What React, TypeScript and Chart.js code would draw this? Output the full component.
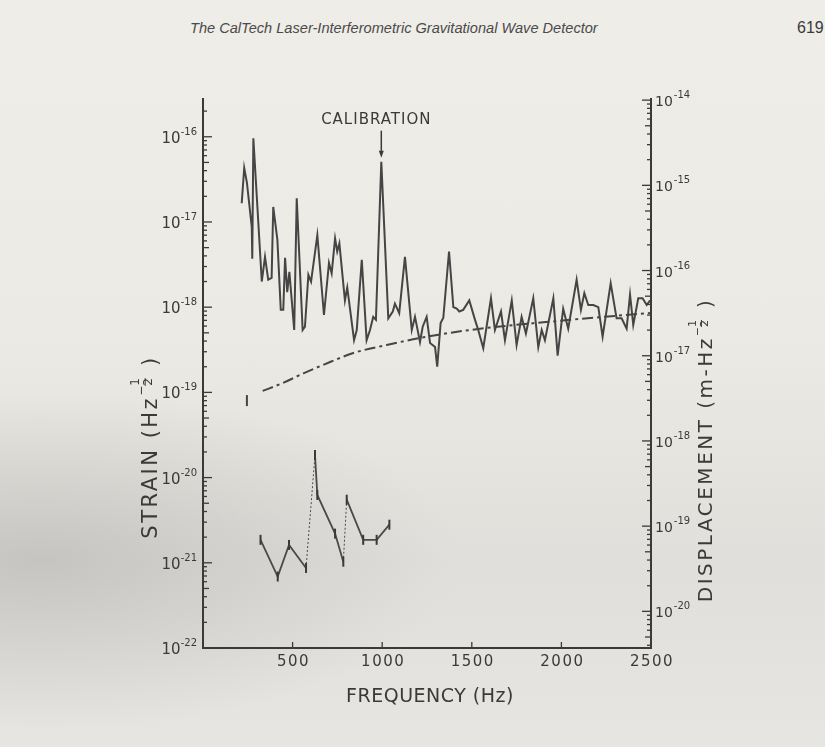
import React, { useEffect, useRef } from 'react';
import { Chart, registerables } from 'chart.js';

Chart.register(...registerables);

// ---------- data ----------
const NOISE_FREQ_HZ = [
  216, 230, 245, 272, 275, 281, 328, 346, 364, 383, 392, 415, 434, 448, 458, 470, 482, 509, 523, 556,
  569, 588, 603, 638, 675, 703, 718, 737, 749, 761, 792, 805, 843, 858, 886, 913, 932, 950, 965, 995,
  1034, 1059, 1071, 1095, 1127, 1165, 1183, 1211, 1226, 1248, 1267, 1295, 1307, 1326, 1341, 1373, 1397,
  1416, 1430, 1452, 1486, 1518, 1536, 1564, 1607, 1629, 1663, 1685, 1723, 1750, 1778, 1802, 1843, 1871,
  1890, 1908, 1955, 1979, 2010, 2038, 2085, 2109, 2128, 2150, 2178, 2206, 2230, 2275, 2308, 2336, 2364,
  2383, 2401, 2429, 2453, 2476, 2495,
];
const NOISE_STRAIN = [
  1.66e-17, 4.3e-17, 2.9e-17, 8.8e-18, 3.7e-18, 9.6e-17, 2.0e-18, 3.9e-18, 2.1e-18, 2.2e-18, 1.5e-17,
  6.2e-18, 9.3e-19, 9.3e-19, 3.8e-18, 1.5e-18, 2.6e-18, 5.4e-19, 1.9e-17, 5.4e-19, 5.9e-19, 2.4e-18,
  2.0e-18, 7.0e-18, 8.1e-19, 3.3e-18, 2.5e-18, 6.4e-18, 4.5e-18, 5.6e-18, 1.2e-18, 1.7e-18, 4.1e-19,
  5.4e-19, 3.6e-18, 4.1e-19, 5.4e-19, 7.7e-19, 7.1e-19, 5.1e-17, 7.4e-19, 8.9e-19, 1.1e-18, 8.5e-19,
  3.9e-18, 5.4e-19, 7.7e-19, 3.9e-19, 5.9e-19, 7.7e-19, 3.8e-19, 3.4e-19, 2.0e-19, 6.5e-19, 7.5e-19,
  4.5e-18, 1.0e-18, 9.6e-19, 8.9e-19, 9.3e-19, 1.2e-18, 7.1e-19, 5.4e-19, 3.3e-19, 1.27e-18, 5.4e-19,
  8.9e-19, 4.1e-19, 1.2e-18, 3.6e-19, 7.7e-19, 4.9e-19, 1.27e-18, 3.4e-19, 5.4e-19, 4.1e-19, 1.27e-18,
  2.7e-19, 9.6e-19, 5.6e-19, 2.1e-18, 9.3e-19, 1.46e-18, 1.06e-18, 1.06e-18, 1.0e-18, 4.5e-19, 1.9e-18,
  7.4e-19, 7.4e-19, 5.6e-19, 1.4e-18, 6.2e-19, 1.27e-18, 1.27e-18, 1.06e-18, 1.2e-18,
];

const MODEL_FREQ_HZ = [333, 446, 560, 709, 839, 1025, 1211, 1490, 2048, 2494];
const MODEL_STRAIN = [1.04e-19, 1.29e-19, 1.67e-19, 2.27e-19, 2.9e-19, 3.6e-19, 4.35e-19, 5.4e-19, 7.1e-19, 8.55e-19];

const MARK_FREQ_HZ = [245, 245];
const MARK_STRAIN = [6.9e-20, 9.3e-20];

const LOWER_FREQ_HZ = [321, 417, 480, 575, 625, 638, 737, 783, 802, 894, 969, 1040];
const LOWER_STRAIN = [1.86e-21, 6.9e-22, 1.62e-21, 8.7e-22, 1.84e-20, 6.25e-21, 2.2e-21, 1.03e-21, 5.5e-21, 1.86e-21, 1.86e-21, 2.8e-21];
const LOWER_DOTTED_SEGMENTS = [3, 7];

const CAL_FREQ_HZ = 995;
const X_TICKS = [500, 1000, 1500, 2000, 2500];
const LEFT_DECADES = [-22, -21, -20, -19, -18, -17, -16];
const RIGHT_DECADES = [-20, -19, -18, -17, -16, -15, -14];

const X_MIN = 0;
const X_MAX = 2500;
const LEFT_MIN = 1e-22;
const LEFT_MAX = 2.851e-16;
const RIGHT_MIN = 3.715e-21;
const RIGHT_MAX = 1.059e-14;

// ---------- style ----------
const INK = '#3a3a3a';
const FONT = '"DejaVu Sans", "Liberation Sans", sans-serif';

const pts = (xs: number[], ys: number[]) => xs.map((x, i) => ({ x, y: ys[i] }));

function drawRunsRotated(ctx: CanvasRenderingContext2D, cx: number, cy: number, main1: string, main2: string, big: number, ls: number) {
  ctx.save();
  ctx.font = `${big}px ${FONT}`;
  (ctx as any).letterSpacing = `${ls}px`;
  const w1 = ctx.measureText(main1).width;
  const w3 = ctx.measureText(main2).width;
  ctx.font = `${Math.round(big * 0.55)}px ${FONT}`;
  (ctx as any).letterSpacing = '0px';
  const wMinus = ctx.measureText('−').width;
  const wDigit = ctx.measureText('1').width;
  const wSup = wMinus + wDigit + 3;
  const total = w1 + wSup + w3;
  const cap = big * 0.73;
  ctx.translate(cx + cap / 2, cy);
  ctx.rotate(-Math.PI / 2);
  let x = -total / 2;
  ctx.textBaseline = 'alphabetic';
  ctx.textAlign = 'left';
  ctx.font = `${big}px ${FONT}`;
  (ctx as any).letterSpacing = `${ls}px`;
  ctx.fillText(main1, x, 0);
  x += w1;
  ctx.font = `${Math.round(big * 0.55)}px ${FONT}`;
  (ctx as any).letterSpacing = '0px';
  ctx.fillText('−', x, -cap * 0.75);
  x += wMinus;
  ctx.fillText('1', x, -cap * 1.15);
  ctx.fillText('2', x, -cap * 0.3);
  ctx.fillRect(x, -cap * 0.78, wDigit, 1);
  x += wDigit + 3;
  ctx.font = `${big}px ${FONT}`;
  (ctx as any).letterSpacing = `${ls}px`;
  ctx.fillText(main2, x, 0);
  ctx.restore();
}

const decorPlugin = {
  id: 'decor',
  afterDraw(chart: any) {
    const { ctx, chartArea: a, scales } = chart;
    const xs = scales.x;
    const yl = scales.y;
    const yr = scales.y2;
    ctx.save();
    ctx.strokeStyle = INK;
    ctx.fillStyle = INK;

    // axis lines (no top frame)
    ctx.lineWidth = 2;
    ctx.beginPath();
    ctx.moveTo(a.left, a.top);
    ctx.lineTo(a.left, a.bottom);
    ctx.lineTo(a.right, a.bottom);
    ctx.lineTo(a.right, a.top);
    ctx.stroke();

    // inward log ticks
    ctx.lineWidth = 1.3;
    const logTicks = (scale: any, side: 'left' | 'right') => {
      const lo = Math.floor(Math.log10(scale.min));
      const hi = Math.ceil(Math.log10(scale.max));
      const x0 = side === 'left' ? a.left : a.right;
      const dir = side === 'left' ? 1 : -1;
      for (let e = lo; e <= hi; e++) {
        for (let m = 1; m <= 9; m++) {
          const v = m * Math.pow(10, e);
          if (v < scale.min * 0.999 || v > scale.max * 1.001) continue;
          const py = scale.getPixelForValue(v);
          const len = m === 1 ? 9 : m === 5 ? 6 : 4;
          ctx.beginPath();
          ctx.moveTo(x0, py);
          ctx.lineTo(x0 + dir * len, py);
          ctx.stroke();
        }
      }
    };
    logTicks(yl, 'left');
    logTicks(yr, 'right');

    // x ticks
    X_TICKS.forEach((v) => {
      if (v >= X_MAX) return;
      const px = xs.getPixelForValue(v);
      ctx.beginPath();
      ctx.moveTo(px, a.bottom);
      ctx.lineTo(px, a.bottom - 6);
      ctx.stroke();
    });

    // left decade labels
    ctx.textBaseline = 'alphabetic';
    LEFT_DECADES.forEach((e) => {
      const py = yl.getPixelForValue(Math.pow(10, e));
      ctx.font = `10px ${FONT}`;
      const sup = `-${-e}`;
      const sw = ctx.measureText(sup).width;
      const right = a.left - 6;
      ctx.textAlign = 'left';
      ctx.fillText(sup, right - sw, py - 2);
      ctx.font = `15px ${FONT}`;
      ctx.textAlign = 'right';
      ctx.fillText('10', right - sw, py + 6);
    });

    // right decade labels
    RIGHT_DECADES.forEach((e) => {
      const py = yr.getPixelForValue(Math.pow(10, e));
      ctx.font = `14px ${FONT}`;
      ctx.textAlign = 'left';
      const left = a.right + 4;
      ctx.fillText('10', left, py + 6);
      const bw = ctx.measureText('10').width;
      ctx.font = `10px ${FONT}`;
      ctx.fillText(`-${-e}`, left + bw + 1, py - 2);
    });

    // x labels
    ctx.font = `15px ${FONT}`;
    (ctx as any).letterSpacing = '1.5px';
    ctx.textAlign = 'center';
    X_TICKS.forEach((v) => {
      const px = xs.getPixelForValue(v);
      ctx.fillText(String(v), px + 1, a.bottom + 18);
    });

    // x title
    ctx.font = `19px ${FONT}`;
    (ctx as any).letterSpacing = '0.5px';
    ctx.fillText('FREQUENCY (Hz)', (a.left + a.right) / 2 + 3, a.bottom + 54);
    (ctx as any).letterSpacing = '0px';

    // calibration arrow
    const ci = NOISE_FREQ_HZ.indexOf(CAL_FREQ_HZ);
    const ax = xs.getPixelForValue(CAL_FREQ_HZ);
    const tip = yl.getPixelForValue(NOISE_STRAIN[ci]) - 4;
    const tail = tip - 27;
    ctx.lineWidth = 1.5;
    ctx.beginPath();
    ctx.moveTo(ax, tail);
    ctx.lineTo(ax, tip - 5);
    ctx.stroke();
    ctx.beginPath();
    ctx.moveTo(ax - 2.5, tip - 7);
    ctx.lineTo(ax + 2.5, tip - 7);
    ctx.lineTo(ax, tip);
    ctx.closePath();
    ctx.fill();
    ctx.font = `15px ${FONT}`;
    (ctx as any).letterSpacing = '1px';
    ctx.textAlign = 'center';
    ctx.fillText('CALIBRATION', ax - 5, tail - 7);
    (ctx as any).letterSpacing = '0px';
    ctx.restore();

    // rotated titles
    ctx.save();
    ctx.fillStyle = INK;
    drawRunsRotated(ctx, a.left - 54, 447, 'STRAIN (Hz', ' )', 21, 2.5);
    drawRunsRotated(ctx, a.right + 54, 450, 'DISPLACEMENT (m-Hz', ' )', 20, 2.5);
    ctx.restore();
  },
};

export default function App() {
  const ref = useRef<HTMLCanvasElement | null>(null);

  useEffect(() => {
    if (!ref.current) return;
    const chart = new Chart(ref.current, {
      type: 'line',
      data: {
        datasets: [
          {
            label: 'noise',
            data: pts(NOISE_FREQ_HZ, NOISE_STRAIN),
            borderColor: '#454545',
            borderWidth: 2,
            pointRadius: 0,
            tension: 0,
            yAxisID: 'y',
          },
          {
            label: 'model',
            data: pts(MODEL_FREQ_HZ, MODEL_STRAIN),
            borderColor: '#454545',
            borderWidth: 2,
            borderDash: [11, 4, 3, 4],
            pointRadius: 0,
            cubicInterpolationMode: 'monotone',
            yAxisID: 'y',
          },
          {
            label: 'mark',
            data: pts(MARK_FREQ_HZ, MARK_STRAIN),
            borderColor: '#454545',
            borderWidth: 2,
            pointRadius: 0,
            yAxisID: 'y',
          },
          {
            label: 'lower',
            data: pts(LOWER_FREQ_HZ, LOWER_STRAIN),
            borderColor: '#4a4a4a',
            borderWidth: 1.8,
            pointStyle: 'line',
            rotation: 90,
            pointRadius: 5,
            pointBorderWidth: 2,
            pointBorderColor: '#3a3a3a',
            segment: {
              borderDash: (c: any) => (LOWER_DOTTED_SEGMENTS.includes(c.p0DataIndex) ? [2, 2] : undefined),
              borderWidth: (c: any) => (LOWER_DOTTED_SEGMENTS.includes(c.p0DataIndex) ? 1 : undefined),
            },
            yAxisID: 'y',
          } as any,
        ],
      },
      options: {
        animation: false,
        responsive: false,
        devicePixelRatio: 1,
        events: [],
        layout: { padding: { left: 203, right: 174, top: 98, bottom: 99 } },
        plugins: { legend: { display: false }, tooltip: { enabled: false }, title: { display: false } },
        scales: {
          x: {
            type: 'linear',
            min: X_MIN,
            max: X_MAX,
            grid: { display: false, drawTicks: false },
            border: { display: false },
            ticks: { display: false },
            afterFit: (s: any) => { s.height = 0; },
          },
          y: {
            type: 'logarithmic',
            position: 'left',
            min: LEFT_MIN,
            max: LEFT_MAX,
            grid: { display: false, drawTicks: false },
            border: { display: false },
            ticks: { display: false },
            afterFit: (s: any) => { s.width = 0; },
          },
          y2: {
            type: 'logarithmic',
            position: 'right',
            min: RIGHT_MIN,
            max: RIGHT_MAX,
            grid: { display: false, drawTicks: false },
            border: { display: false },
            ticks: { display: false },
            afterFit: (s: any) => { s.width = 0; },
          },
        },
      } as any,
      plugins: [decorPlugin],
    });
    return () => chart.destroy();
  }, []);

  return (
    <div
      style={{
        position: 'fixed',
        left: 0,
        top: 0,
        width: 825,
        height: 747,
        overflow: 'hidden',
        background:
          'radial-gradient(ellipse 420px 170px at 40px 560px, rgba(140,140,138,0.32), rgba(140,140,138,0) 100%), linear-gradient(180deg, #efede7 0%, #eceae4 45%, #e0dfdb 75%, #e6e5e1 100%)',
      }}
    >
      <div
        style={{
          position: 'absolute',
          left: 190,
          top: 20,
          font: 'italic 14.6px "Liberation Sans", Arial, sans-serif',
          lineHeight: '16px',
          color: '#4a4a4a',
          whiteSpace: 'nowrap',
        }}
      >
        The CalTech Laser-Interferometric Gravitational Wave Detector
      </div>
      <div
        style={{
          position: 'absolute',
          left: 797,
          top: 20,
          font: '16px "Liberation Sans", Arial, sans-serif',
          lineHeight: '16px',
          color: '#3a3a3a',
          whiteSpace: 'nowrap',
        }}
      >
        619
      </div>
      <canvas ref={ref} width={825} height={747} style={{ position: 'absolute', left: 0, top: 0, width: 825, height: 747 }} />
    </div>
  );
}
